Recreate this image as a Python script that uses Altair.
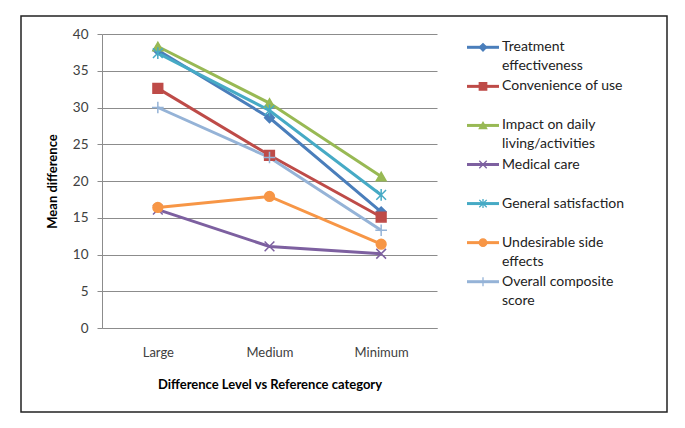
import altair as alt
import pandas as pd

levels = ["Large", "Medium", "Minimum"]
series = [
    "Treatment effectiveness",
    "Convenience of use",
    "Impact on daily living/activities",
    "Medical care",
    "General satisfaction",
    "Undesirable side effects",
    "Overall composite score",
]
legend_line1 = ["Treatment", "Convenience of use", "Impact on daily", "Medical care",
                "General satisfaction", "Undesirable side", "Overall composite"]
legend_line2 = ["effectiveness", "", "living/activities", "", "", "effects", "score"]

treatment = [37.8, 28.6, 15.8]
convenience = [32.6, 23.5, 15.1]
impact = [38.3, 30.6, 20.6]
medical = [16.1, 11.1, 10.1]
general = [37.4, 29.6, 18.1]
side_effects = [16.4, 17.9, 11.4]
overall = [30.0, 23.2, 13.3]

colors = ["#4A7EBB", "#BE4B48", "#98B954", "#7D60A0", "#46AAC5", "#F79646", "#95B3D7"]
shapes = ["diamond", "square", "triangle-up",
          "M-1,-1L1,1M-1,1L1,-1",
          "M-1,-1L1,1M-1,1L1,-1M0,-1.2L0,1.2",
          "circle",
          "M-1.2,0L1.2,0M0,-1.2L0,1.2"]

all_values = [treatment, convenience, impact, medical, general, side_effects, overall]
rows = []
for s, vals in zip(series, all_values):
    for lv, v in zip(levels, vals):
        rows.append({"series": s, "level": lv, "value": v})
df = pd.DataFrame(rows)

leg = pd.DataFrame({"series": series, "idx": list(range(len(series))),
                    "l1": legend_line1, "l2": legend_line2})

cscale = alt.Scale(domain=series, range=colors)
sscale = alt.Scale(domain=series, range=shapes)

X = alt.X("level:N", sort=levels,
          scale=alt.Scale(type="point", padding=0.5),
          axis=alt.Axis(title="Difference Level vs Reference category", labelAngle=0,
                        ticks=False, tickSize=0, labelPadding=18, titlePadding=19,
                        domainColor="#8c8c8c", labelFontSize=13, labelColor="#404040",
                        titleFontSize=13, titleFontWeight="bold", titleColor="#000"))
Y = alt.Y("value:Q", scale=alt.Scale(domain=[0, 40]),
          axis=alt.Axis(title="Mean difference", values=list(range(0, 41, 5)),
                        tickSize=5, tickColor="#8c8c8c", domainColor="#8c8c8c",
                        gridColor="#8c8c8c", grid=True, labelPadding=9,
                        labelFontSize=13.5, labelColor="#404040", titlePadding=13,
                        titleFontSize=13, titleFontWeight="bold", titleColor="#000"))

base = alt.Chart(df)
lines = base.mark_line(strokeWidth=3).encode(
    x=X, y=Y,
    color=alt.Color("series:N", scale=cscale, legend=None),
    order=alt.Order("level:N"),
)
points = base.mark_point(filled=True, size=95, opacity=1, strokeWidth=1.5).encode(
    x=X, y=Y,
    fill=alt.Fill("series:N", scale=cscale, legend=None),
    stroke=alt.Stroke("series:N", scale=cscale, legend=None),
    shape=alt.Shape("series:N", scale=sscale, legend=None),
)
main = alt.layer(lines, points)

LY = alt.Y("idx:Q", scale=alt.Scale(domain=[0, 6], range=[13.3, 247.7]), axis=None)
lbase = alt.Chart(leg)
leg_rule = lbase.mark_rule(strokeWidth=3).encode(
    x=alt.value(365), x2=alt.value(397), y=LY,
    color=alt.Color("series:N", scale=cscale, legend=None),
)
leg_pts = lbase.mark_point(filled=True, size=55, opacity=1, strokeWidth=1.3).encode(
    x=alt.value(381), y=LY,
    fill=alt.Fill("series:N", scale=cscale, legend=None),
    stroke=alt.Stroke("series:N", scale=cscale, legend=None),
    shape=alt.Shape("series:N", scale=sscale, legend=None),
)
leg_t1 = lbase.mark_text(align="left", baseline="middle", fontSize=14, color="#222").encode(
    x=alt.value(400), y=LY, text="l1:N")
leg_t2 = lbase.mark_text(align="left", baseline="middle", fontSize=14, color="#222", dy=19).encode(
    x=alt.value(400), y=LY, text="l2:N")
legend = alt.layer(leg_rule, leg_pts, leg_t1, leg_t2)

frame = alt.Chart(pd.DataFrame({"a": [0]})).mark_rect(
    fillOpacity=0, stroke="#222", strokeWidth=1.5).encode(
    x=alt.value(-81), x2=alt.value(565), y=alt.value(-18), y2=alt.value(378))

chart = alt.layer(frame, main, legend).resolve_scale(y="independent").properties(
    width=335, height=294,
    autosize=alt.AutoSizeParams(type="none"),
    padding={"left": 94, "top": 26, "right": 236, "bottom": 88},
).configure(font="Lato").configure_view(strokeWidth=0).configure_axis(gridWidth=1)

chart.save("out.html", embed_options={"renderer": "svg", "actions": False})
